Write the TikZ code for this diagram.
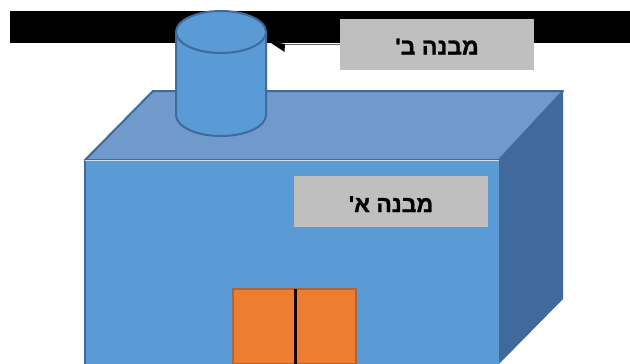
\documentclass[tikz,border=0pt]{standalone}
\usepackage{fontspec}
\newfontfamily\hebfont[Script=Hebrew,BoldFont={Liberation Sans Bold},BoldFeatures={FakeBold=1.2}]{Liberation Sans}
\TeXXeTstate=1
\definecolor{frontblue}{HTML}{5B9BD5}
\definecolor{roofblue}{HTML}{7099CC}
\definecolor{sideblue}{HTML}{41699B}
\definecolor{edgeblue}{HTML}{3F6A9A}
\definecolor{doororange}{HTML}{ED7D31}
\definecolor{dooredge}{HTML}{A8683F}
\definecolor{labelgrey}{HTML}{BFBFBF}
\begin{document}
\begin{tikzpicture}[x=1pt,y=-1pt]
	\tikzstyle{wall} = [draw=edgeblue, line width=2pt, line join=round]
	\tikzstyle{door_i} = [fill=doororange, draw=dooredge, line width=1.5pt]
	\tikzstyle{label_i} = [fill=labelgrey, minimum width=194pt, minimum height=51pt, inner sep=0pt, text depth=0pt, text height=21pt, font=\hebfont\bfseries\fontsize{23}{28}\selectfont]
\useasboundingbox (0,0) rectangle (630,364);

%black band
\fill[black] (10,11) rectangle (630,43);

%building
\filldraw[wall, fill=roofblue] (85,160) -- (153,91) -- (563,91) -- (499,160) -- cycle;
\fill[sideblue] (499,160) -- (563,91) -- (563,299) -- (499,364) -- cycle;
\fill[frontblue] (85,160) rectangle (499,364);
\draw[edgeblue, line width=1.5pt] (85,364) -- (85,160);
\draw[white!70!frontblue, line width=1pt] (85,160) -- (499,160);

%doors
\foreach \x/\w in {233/62, 295/61}
	\draw[door_i] (\x,289) rectangle +(\w,75);
\draw[black!90!red, line width=2.5pt] (295.5,289) -- (295.5,364);

%tank
\filldraw[wall, fill=frontblue] (176,32) -- (176,115) arc[start angle=180, end angle=0, x radius=45, y radius=21] -- (266,32) -- cycle;
\filldraw[wall, fill=frontblue] (221,32) ellipse[x radius=45, y radius=21];
\coordinate (tank_rim) at (285,44);

%labels
\node[label_i] (label_b) at (437,44) {\beginR מבנה ב'\endR};
\node[label_i] (label_a) at (391,201.5) {\beginR מבנה א'\endR};

%pointer
\fill[black] (268,41) -- (284.5,52) -- (tank_rim) -- cycle;
\draw[black!60, line width=0.8pt] (label_b.west|-tank_rim) -- (tank_rim);
\end{tikzpicture}
\end{document}
